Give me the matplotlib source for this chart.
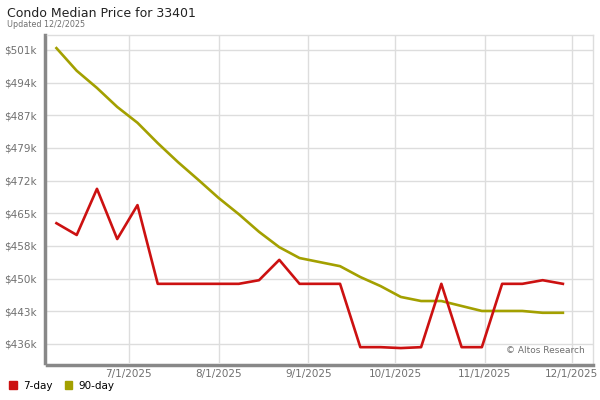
import numpy as np
import pandas as pd
import matplotlib
matplotlib.use("Agg")
import matplotlib.pyplot as plt
import matplotlib.dates as mdates
from matplotlib.ticker import FuncFormatter

# Datos (precio medio en miles de dólares, semanal)
fechas = pd.date_range("2025-06-06", "2025-11-28", freq="7D")
dia7 = [462.7, 460.1, 470.3, 459.2, 466.7, 449.3, 449.3, 449.3, 449.3, 449.3,
        450.1, 454.6, 449.3, 449.3, 449.3, 435.3, 435.3, 435.1, 435.3, 449.3,
        435.3, 435.3, 449.3, 449.3, 450.1, 449.3]
dia90 = [501.4, 496.4, 492.6, 488.4, 484.9, 480.4, 476.2, 472.3, 468.3, 464.7,
         460.8, 457.4, 455.0, 454.1, 453.2, 450.8, 448.8, 446.4, 445.5, 445.5,
         444.4, 443.3, 443.3, 443.3, 442.9, 442.9]
yticks = np.linspace(436, 501, 10)
xticks = pd.to_datetime(["2025-07-01", "2025-08-01", "2025-09-01",
                         "2025-10-01", "2025-11-01", "2025-12-01"])

rojo = "#cc1111"
oliva = "#a3a000"
gris = "#707070"

fig = plt.figure(figsize=(6, 4), dpi=100)
ax = fig.add_axes([0.078, 0.0925, 0.91, 0.82])

ax.plot(fechas, dia7, color=rojo, lw=1.9, label="7-day", zorder=3)
ax.plot(fechas, dia90, color=oliva, lw=1.9, label="90-day", zorder=2)

ax.set_ylim(431.8, 504.3)
ax.set_xlim(pd.Timestamp("2025-06-02 16:00"), pd.Timestamp("2025-12-08 08:00"))
ax.set_yticks(yticks)
ax.yaxis.set_major_formatter(FuncFormatter(lambda v, p: "${:.0f}k".format(v)))
ax.set_xticks(xticks)
ax.xaxis.set_major_formatter(mdates.DateFormatter("%-m/%-d/%Y"))

ax.grid(True, color="#dddddd", lw=1)
ax.set_axisbelow(True)
ax.tick_params(length=0, labelsize=7.5, labelcolor=gris)
ax.tick_params(axis="y", pad=6)
ax.tick_params(axis="x", pad=3)

for s in ["top", "right"]:
    ax.spines[s].set_color("#dddddd")
    ax.spines[s].set_linewidth(1)
for s in ["left", "bottom"]:
    ax.spines[s].set_color("#888888")
    ax.spines[s].set_linewidth(2.5)
    ax.spines[s].set_position(("outward", 1.5))

fig.text(0.012, 0.958, "Condo Median Price for 33401", fontsize=9, color="#222222")
fig.text(0.012, 0.932, "Updated 12/2/2025", fontsize=5.8, color=gris)
ax.text(0.985, 0.025, "© Altos Research", transform=ax.transAxes, ha="right",
        va="bottom", fontsize=6.5, color=gris)

fig.legend(loc="lower left", bbox_to_anchor=(0.0, 0.0), ncol=2, frameon=False,
           fontsize=7.5, handlelength=0.7, handleheight=0.7, handletextpad=0.6,
           columnspacing=1.2,
           handles=[plt.Rectangle((0, 0), 1, 1, color=rojo),
                    plt.Rectangle((0, 0), 1, 1, color=oliva)],
           labels=["7-day", "90-day"])

fig.savefig("out.png", dpi=100)
